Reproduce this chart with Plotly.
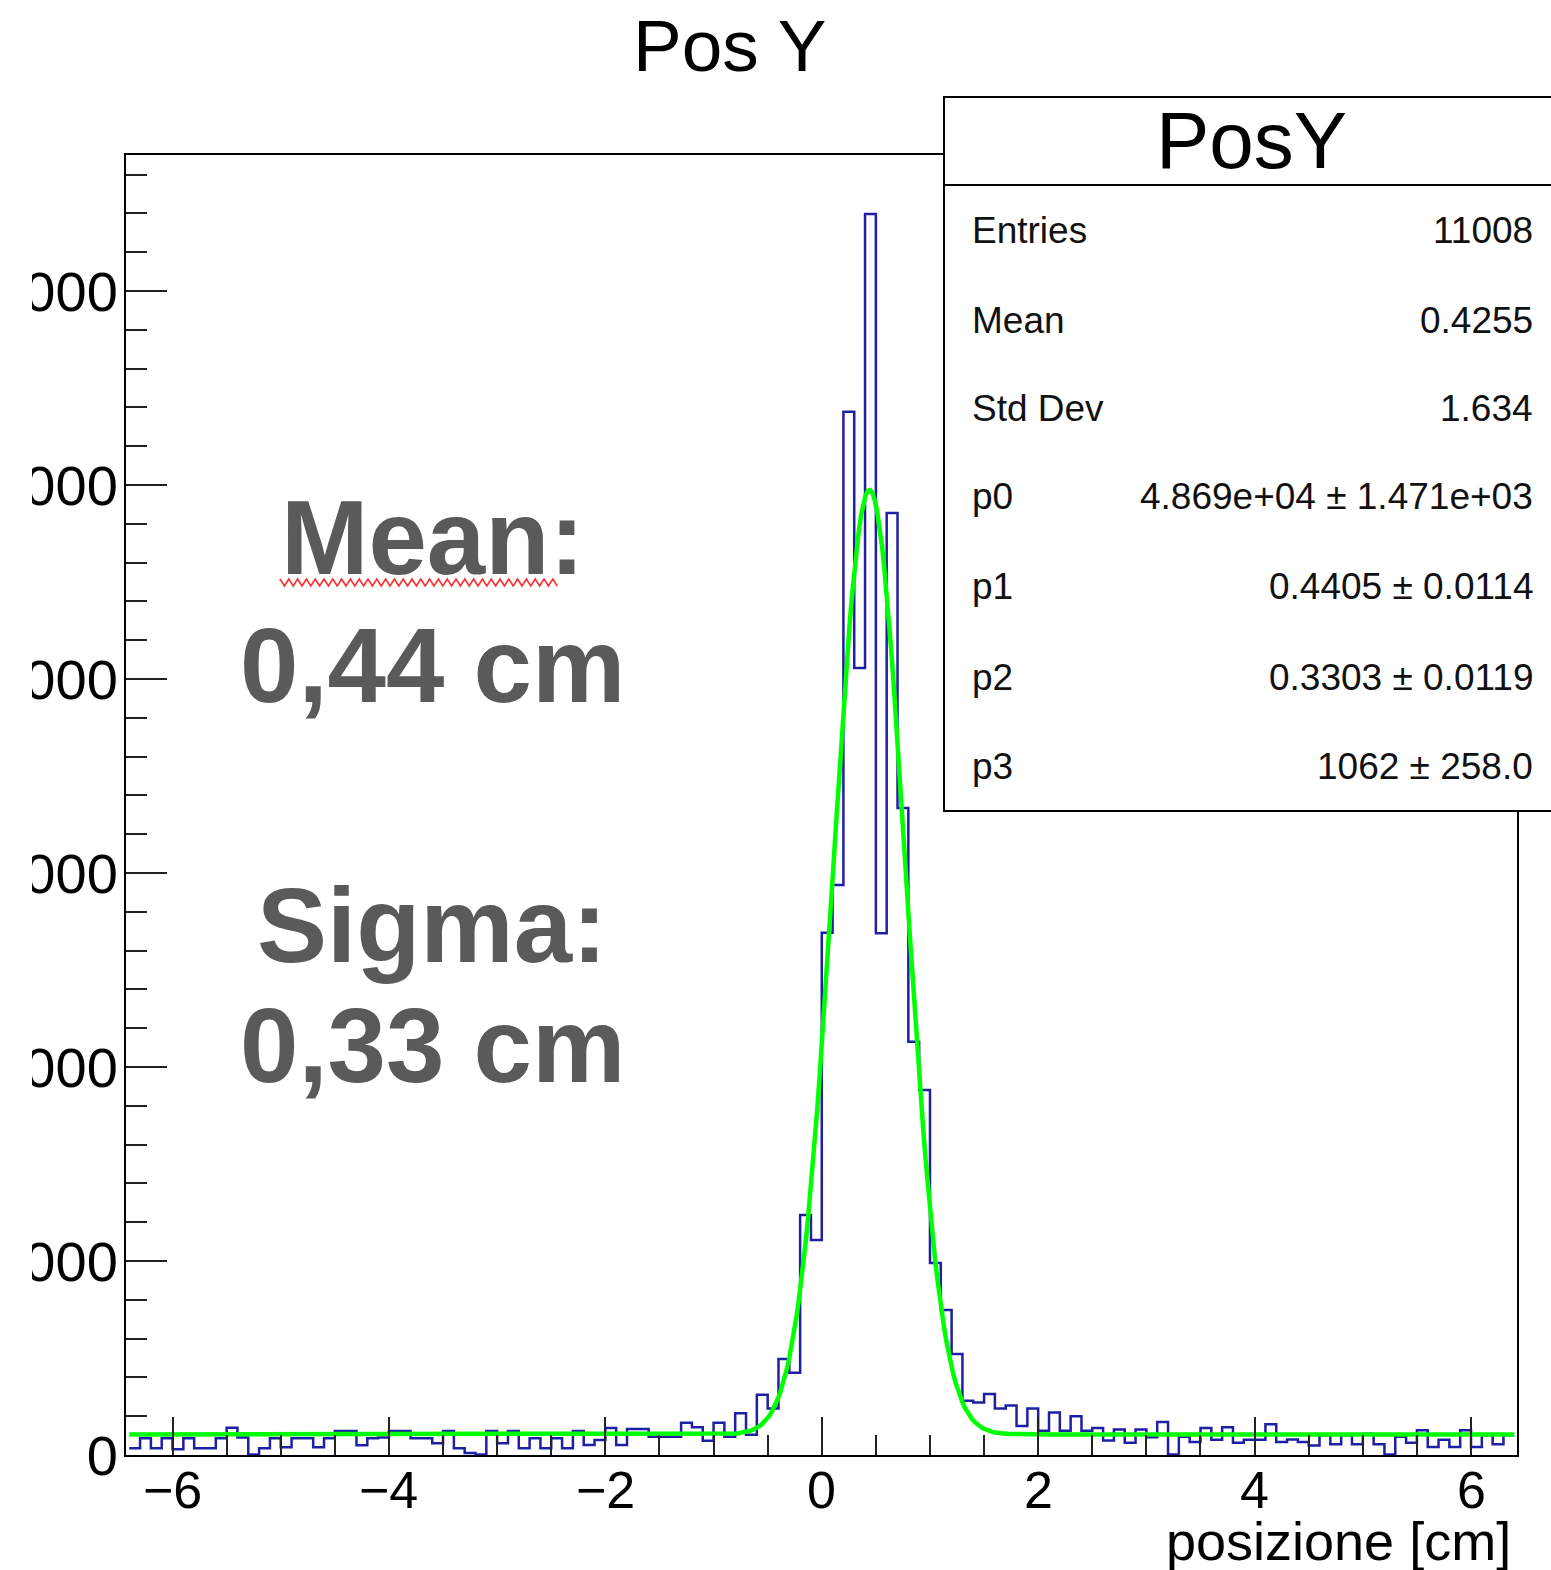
import numpy as np
import plotly.graph_objects as go

# ---------------- data ----------------
bin_low = -6.4
bin_width = 0.1
bin_values = [
    350, 860, 350, 860, 300, 860, 350, 350, 860, 1410,
    900, 30, 350, 860, 400, 860, 860, 400, 860, 1240,
    1240, 500, 860, 900, 1240, 1240, 860, 860, 600, 1240,
    350, 100, 30, 1240, 600, 1240, 350, 860, 350, 860,
    350, 1240, 515, 770, 1390, 515, 1340, 1340, 940, 940,
    940, 1665, 1425, 735, 1665, 940, 2150, 1050, 3100, 2400,
    4950, 4240, 12370, 11080, 26925, 29380, 53780, 40570, 63970, 26890,
    48560, 33350, 21305, 18815, 9900, 7475, 5205, 2800, 2700, 3150,
    2400, 2550, 1500, 2400, 1245, 2185, 1245, 2000, 1245, 1395,
    745, 1320, 637, 1320, 910, 1700, 30, 940, 667, 1395,
    790, 1425, 637, 790, 790, 1580, 667, 800, 667, 485,
    1015, 560, 1015, 560, 1090, 560, 30, 940, 637, 1275,
    410, 790, 410, 1275, 410, 1015, 560, 1015,
]

# fit parameters (gaus + const) as printed in the stats box
p0, p1, p2, p3 = 4.869e4, 0.4405, 0.3303, 1062.0
fit_xmin, fit_xmax, fit_npx = -6.4, 6.4, 600

stats_labels = ["Entries", "Mean", "Std Dev", "p0", "p1", "p2", "p3"]
stats_values = ["11008", "0.4255", "1.634", "4.869e+04 \u00b1 1.471e+03",
                "0.4405 \u00b1 0.0114", "0.3303 \u00b1 0.0119", "1062 \u00b1 258.0"]

x_tick_vals = [-6, -4, -2, 0, 2, 4, 6]
x_tick_text = ["\u22126", "\u22124", "\u22122", "0", "2", "4", "6"]
y_tick_vals = [0, 10000, 20000, 30000, 40000, 50000, 60000]
y_tick_text = ["0", "10000", "20000", "30000", "40000", "50000", "60000"]

# ---------------- geometry helpers ----------------
W, H = 1551, 1570
PL, PR, PT, PB = 126, 1517, 155, 1455


def px(x):
    return (x - PL) / (PR - PL)


def py(y):
    return (PB - y) / (PB - PT)


FONT = "Liberation Sans, Arial, Helvetica, sans-serif"

edges = bin_low + bin_width * np.arange(len(bin_values) + 1)
hist_y = list(bin_values) + [bin_values[-1]]

xf = np.linspace(fit_xmin, fit_xmax, fit_npx + 1)
yf = p0 * np.exp(-0.5 * ((xf - p1) / p2) ** 2) + p3

fig = go.Figure()
fig.add_trace(go.Scatter(x=edges, y=hist_y, mode="lines", line_shape="hv",
                         line=dict(color="#1f1fa6", width=2.5),
                         showlegend=False, hoverinfo="skip"))
fig.add_trace(go.Scatter(x=xf, y=yf, mode="lines",
                         line=dict(color="#00ff00", width=4.5),
                         showlegend=False, hoverinfo="skip"))

fig.update_layout(
    width=W, height=H,
    margin=dict(l=PL, r=W - PR, t=PT, b=H - PB, autoexpand=False),
    paper_bgcolor="white", plot_bgcolor="white",
    font=dict(family=FONT, color="black"),
    showlegend=False,
)

fig.update_xaxes(
    range=[-6.43, 6.425], showgrid=False, zeroline=False,
    showline=True, linecolor="black", linewidth=2, mirror=True,
    ticks="inside", ticklen=38, tickwidth=2, tickcolor="#222",
    tickmode="array", tickvals=x_tick_vals, showticklabels=False,
    minor=dict(tickmode="array", tickvals=list(np.arange(-6.0, 6.01, 0.5)),
               ticks="inside", ticklen=20, tickwidth=2, tickcolor="#222",
               showgrid=False),
    automargin=False,
)
fig.update_yaxes(
    range=[0, 67010], showgrid=False, zeroline=False,
    showline=True, linecolor="black", linewidth=2, mirror=True,
    ticks="inside", ticklen=41, tickwidth=2, tickcolor="#222",
    tickmode="array", tickvals=y_tick_vals, ticktext=y_tick_text,
    tickfont=dict(size=56, family=FONT, color="black"),
    ticklabelstandoff=-5,
    minor=dict(tickmode="array", tickvals=list(np.arange(0, 66001, 2000)),
               ticks="inside", ticklen=21, tickwidth=2, tickcolor="#222",
               showgrid=False),
    automargin=False,
)

shapes = []
# blank strip at the far left (the reference image is cut there)
shapes.append(dict(type="rect", xref="paper", yref="paper",
                   x0=px(-20), x1=px(32), y0=py(1300), y1=py(160),
                   fillcolor="white", line=dict(width=0), layer="above"))
# stats box
shapes.append(dict(type="rect", xref="paper", yref="paper",
                   x0=px(944), x1=px(1580), y0=py(811), y1=py(97),
                   fillcolor="white", line=dict(color="black", width=2),
                   layer="above"))
shapes.append(dict(type="line", xref="paper", yref="paper",
                   x0=px(944), x1=px(1580), y0=py(185), y1=py(185),
                   line=dict(color="black", width=2), layer="above"))
# red spell-check squiggle under "Mean:"
sq_x = np.arange(280, 558, 4.4)
path = ""
for i, xv in enumerate(sq_x):
    yv = 579 if i % 2 == 0 else 586
    path += ("M" if i == 0 else "L") + f"{px(xv):.5f},{py(yv):.5f}"
shapes.append(dict(type="path", xref="paper", yref="paper", path=path,
                   line=dict(color="#ff3030", width=1.6), layer="above"))
fig.update_layout(shapes=shapes)

ann = []
# x tick labels
for tv, tt in zip(x_tick_vals, x_tick_text):
    ann.append(dict(text=tt, x=tv, y=py(1490), xref="x", yref="paper",
                    showarrow=False, xanchor="center", yanchor="middle",
                    font=dict(size=52, family=FONT, color="black")))
ann.append(dict(text="Pos Y", x=px(729), y=py(45), xref="paper", yref="paper",
                showarrow=False, xanchor="center", yanchor="middle",
                font=dict(size=73, family=FONT, color="black")))
ann.append(dict(text="PosY", x=px(1251), y=py(140), xref="paper", yref="paper",
                showarrow=False, xanchor="center", yanchor="middle",
                font=dict(size=80, family=FONT, color="black")))
row_y = [230, 320, 408, 496, 586, 677, 766]
for lab, val, yy in zip(stats_labels, stats_values, row_y):
    ann.append(dict(text=lab, x=px(970), y=py(yy), xref="paper", yref="paper",
                    showarrow=False, xanchor="left", yanchor="middle",
                    font=dict(size=37, family=FONT, color="#111")))
    ann.append(dict(text=val, x=px(1535), y=py(yy), xref="paper", yref="paper",
                    showarrow=False, xanchor="right", yanchor="middle",
                    font=dict(size=37, family=FONT, color="#111")))

gray = "#5a5a5a"
for txt, yy in [("Mean:", 537), ("0,44 cm", 665), ("Sigma:", 925), ("0,33 cm", 1045)]:
    ann.append(dict(text=f"<b>{txt}</b>", x=px(432), y=py(yy), xref="paper", yref="paper",
                    showarrow=False, xanchor="center", yanchor="middle",
                    font=dict(size=105, family=FONT, color=gray)))

ann.append(dict(text="posizione [cm]", x=px(1513), y=py(1541), xref="paper", yref="paper",
                showarrow=False, xanchor="right", yanchor="middle",
                font=dict(size=54, family=FONT, color="black")))
fig.update_layout(annotations=ann)

fig.write_html("out.html", config={"displayModeBar": False},
               post_script="document.body.style.margin='0';document.body.style.overflow='hidden';")
